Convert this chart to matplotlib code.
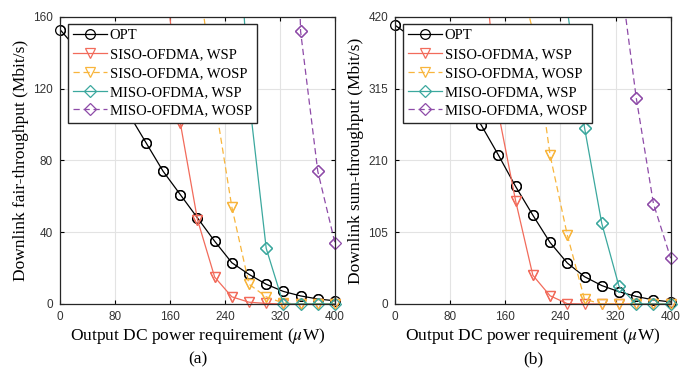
import numpy as np
from matplotlib import pyplot as plt

plt.rcParams['font.family'] = 'Liberation Serif'
plt.rcParams['mathtext.fontset'] = 'stix'

x = np.arange(0, 401, 25)

# (a) fair-throughput, Mbit/s
opt_a = [153, 142, 130, 118, 106, 90, 74, 61, 48, 35, 23, 16.5, 11, 7, 4.5, 2.8, 1.8]
siso_wsp_a = [600, 520, 450, 380, 320, 260, 199, 101, 47, 15, 4, 1, 0.3, 0, 0, 0, 0]
siso_wosp_a = [700, 620, 550, 480, 410, 340, 290, 240, 188, 114, 54, 11, 4, 0.5, 0, 0, 0]
miso_wsp_a = [900, 850, 800, 700, 650, 600, 550, 480, 420, 350, 276, 115, 31, 0, 0, 0, 0]
miso_wosp_a = [1200, 1150, 1100, 1050, 1000, 950, 900, 850, 800, 750, 700, 600, 550, 500, 152, 74, 34]

# (b) sum-throughput, Mbit/s
opt_b = [408, 390, 365, 335, 300, 262, 218, 172, 130, 90, 60, 40, 27, 18, 11, 6, 3]
siso_wsp_b = [1000, 950, 880, 800, 700, 549, 280, 151, 42, 12, 0.5, 0, 0, 0, 0, 0, 0]
siso_wosp_b = [1100, 1050, 980, 900, 800, 700, 600, 500, 400, 218, 101, 7, 0, 0, 0, 0, 0]
miso_wsp_b = [1300, 1250, 1200, 1100, 1000, 900, 800, 700, 600, 500, 430, 258, 118, 26, 0, 0, 0]
miso_wosp_b = [1500, 1450, 1400, 1350, 1300, 1250, 1200, 1100, 1000, 900, 800, 700, 600, 496, 302, 147, 67]

labels = ['OPT', 'SISO-OFDMA, WSP', 'SISO-OFDMA, WOSP', 'MISO-OFDMA, WSP', 'MISO-OFDMA, WOSP']
colors = ['black', '#F26B5B', '#F8B53C', '#3BA89E', '#8E4BA8']
markers = ['o', 'v', 'v', 'D', 'D']
styles = ['-', '-', '--', '-', '--']
msizes = [7, 7.5, 7.5, 6, 6]

fig = plt.figure(figsize=(6.84, 3.71), dpi=100)
ax_a = fig.add_axes([0.0877, 0.1806, 0.402, 0.7736])
ax_b = fig.add_axes([0.5775, 0.1806, 0.403, 0.7736])


def draw(ax, series, ymax, yticks, ylabel, tag):
    for i, y in enumerate(series):
        y = np.array(y, dtype=float)
        ax.plot(x, y, linestyle=styles[i], color=colors[i], lw=0.9,
                marker=markers[i], ms=msizes[i], mfc='none', mew=0.9,
                label=labels[i], dashes=(5, 3) if styles[i] == '--' else (None, None))
        # markers on the axes edges are drawn whole, as in the original
        vis = y <= ymax
        ax.plot(x[vis], y[vis], linestyle='none', color=colors[i],
                marker=markers[i], ms=msizes[i], mfc='none', mew=0.9, clip_on=False)
    ax.set_xlim(0, 400)
    ax.set_ylim(0, ymax)
    ax.set_xticks(range(0, 401, 80))
    ax.set_yticks(yticks)
    ax.grid(True, color='#E3E3E3', lw=0.8)
    ax.set_axisbelow(True)
    ax.tick_params(direction='in', top=True, right=True, length=3, width=0.8,
                   labelsize=8.5, pad=5)
    for lab in ax.get_xticklabels() + ax.get_yticklabels():
        lab.set_family('Liberation Sans')
        lab.set_color('#333333')
    for sp in ax.spines.values():
        sp.set_linewidth(0.9)
        sp.set_color('#262626')
    ax.set_xlabel(r'Output DC power requirement ($\mu$W)', fontsize=12.5, labelpad=2)
    ax.set_ylabel(ylabel, fontsize=12.5, labelpad=3)
    ax.legend(loc='upper left', bbox_to_anchor=(0.03, 0.975), borderaxespad=0,
              fontsize=10.5, handlelength=2.3, labelspacing=0.38, handletextpad=0.2,
              borderpad=0.35, fancybox=False, framealpha=1, edgecolor='#262626')
    ax.text(0.5, -0.165, tag, transform=ax.transAxes, ha='center', va='top', fontsize=12.5)


draw(ax_a, [opt_a, siso_wsp_a, siso_wosp_a, miso_wsp_a, miso_wosp_a], 160,
     range(0, 161, 40), 'Downlink fair-throughput (Mbit/s)', '(a)')
draw(ax_b, [opt_b, siso_wsp_b, siso_wosp_b, miso_wsp_b, miso_wosp_b], 420,
     range(0, 421, 105), 'Downlink sum-throughput (Mbit/s)', '(b)')

fig.savefig('out.png', dpi=100)
